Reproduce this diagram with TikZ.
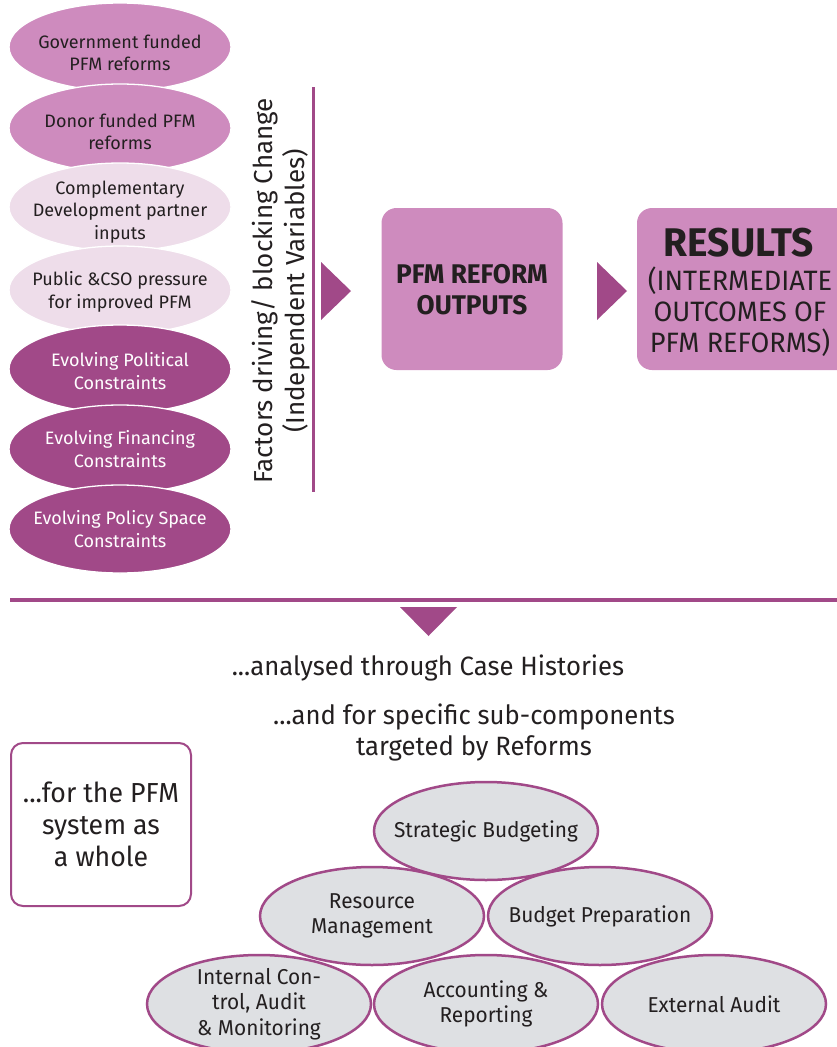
\documentclass[tikz,border=0pt]{standalone}
\usepackage{fontspec}
\setmainfont{Fira Sans}
\newfontfamily\condfont{Fira Sans}[FakeStretch=0.97]
\usetikzlibrary{shapes.geometric}
\definecolor{pdark}{RGB}{161,73,136}
\definecolor{pmid}{RGB}{206,139,190}
\definecolor{plight}{RGB}{238,221,234}
\definecolor{gfill}{RGB}{222,224,227}
\definecolor{txt}{RGB}{35,31,32}
\begin{document}
\begin{tikzpicture}[x=1pt,y=-1pt,
  lell/.style={ellipse, draw=white, line width=1.3pt, minimum width=222pt, minimum height=88pt, inner sep=0pt},
  ltext/.style={align=center, font=\fontsize{18}{22.5}\selectfont},
  bell/.style={ellipse, draw=pdark, line width=2.5pt, fill=gfill, minimum width=224pt, minimum height=98pt, inner sep=0pt},
  btext/.style={align=center, text=txt, font=\condfont\fontsize{21.5}{25.5}\selectfont},
  box/.style={rectangle, rounded corners=15pt, fill=pmid, inner sep=0pt},
  tri/.style={fill=pdark}
]
\useasboundingbox (0,0) rectangle (837,1047);
\begin{scope}
\clip (0,0) rectangle (837,1047);
% left ellipses
\node[lell, fill=pmid] (e1) at (120,47) {};
\node[ltext, text=txt] at ([yshift=-6pt]e1.center) {Government funded\\PFM reforms};
\node[lell, fill=pmid] (e2) at (120,128) {};
\node[ltext, text=txt] at ([yshift=-4pt]e2.center) {Donor funded PFM\\reforms};
\node[lell, fill=plight] (e3) at (120,207) {};
\node[ltext, text=txt] at ([yshift=-5pt]e3.center) {Complementary\\Development partner\\inputs};
\node[lell, fill=plight] (e4) at (120,290) {};
\node[ltext, text=txt] at ([yshift=-2pt]e4.center) {Public \&CSO pressure\\for improved PFM};
\node[lell, fill=pdark] (e5) at (120,369) {};
\node[ltext, text=white] at ([yshift=-2pt]e5.center) {Evolving Political\\Constraints};
\node[lell, fill=pdark] (e6) at (120,449) {};
\node[ltext, text=white] at (e6) {Evolving Financing\\Constraints};
\node[lell, fill=pdark] (e7) at (120,529) {};
\node[ltext, text=white] at (e7) {Evolving Policy Space\\Constraints};

% rotated label and vertical line
\node[rotate=90, align=center, text=txt, font=\fontsize{26}{32}\selectfont] (factors) at (281,291) {Factors driving/ blocking Change\\(Independent Variables)};
\coordinate (vt) at (313,87);
\coordinate (vb) at (313,492);
\draw[pdark, line width=3pt] (vt) -- (vb);

% arrows
\fill[tri] (321,262) -- (351,291) -- (321,320) -- cycle;
\fill[tri] (597,262) -- (627,291) -- (597,320) -- cycle;

% boxes
\node[box, minimum width=181pt, minimum height=162pt] (out) at (472,289) {};
\node[align=center, text=txt, font=\condfont\bfseries\fontsize{27}{31}\selectfont] (outt) at (472,290) {PFM REFORM\\OUTPUTS};
\node[box, minimum width=230pt, minimum height=162pt] (res) at (752,289) {};
\node[text=txt, font=\condfont\bfseries\fontsize{40}{40}\selectfont] (rest) at (739,243) {RESULTS};
\node[align=center, text=txt, font=\condfont\fontsize{28}{31}\selectfont] (ress) at (740,312) {(INTERMEDIATE\\OUTCOMES OF\\PFM REFORMS)};

% separator
\coordinate (hl) at (10,600);
\coordinate (hr) at (837,600);
\draw[pdark, line width=4pt] (hl) -- (hr);
\fill[tri] (400,607) -- (457,607) -- (428.5,636) -- cycle;

% texts
\node[text=txt, font=\condfont\fontsize{26.5}{31}\selectfont] (case) at (428,668) {...analysed through Case Histories};
\node[align=center, text=txt, font=\condfont\fontsize{26.5}{31}\selectfont] (sub) at (474,732) {...and for specific sub-components\\targeted by Reforms};

% whole system box
\node[draw=pdark, line width=2pt, rounded corners=12pt, fill=white, minimum width=180pt, minimum height=163pt] (whole) at (101,824.5) {};
\node[align=center, text=txt, font=\condfont\fontsize{27.5}{32}\selectfont] (wholet) at (whole) {...for the PFM\\system as\\a whole};

% bottom ellipses
\node[bell] (sb) at (486,831) {};
\node[btext] at (sb) {Strategic Budgeting};
\node[bell] (rm) at (372,916) {};
\node[btext] at (rm) {Resource\\Management};
\node[bell] (bp) at (600,916) {};
\node[btext] at (bp) {Budget Preparation};
\node[bell] (ic) at (259,1004) {};
\node[btext] at (ic) {Internal Con-\\trol, Audit\\\& Monitoring};
\node[bell] (ar) at (486,1004) {};
\node[btext] at (ar) {Accounting \&\\Reporting};
\node[bell] (ea) at (714,1004) {};
\node[btext] at (ea) {External Audit};
\end{scope}
\end{tikzpicture}
\end{document}
